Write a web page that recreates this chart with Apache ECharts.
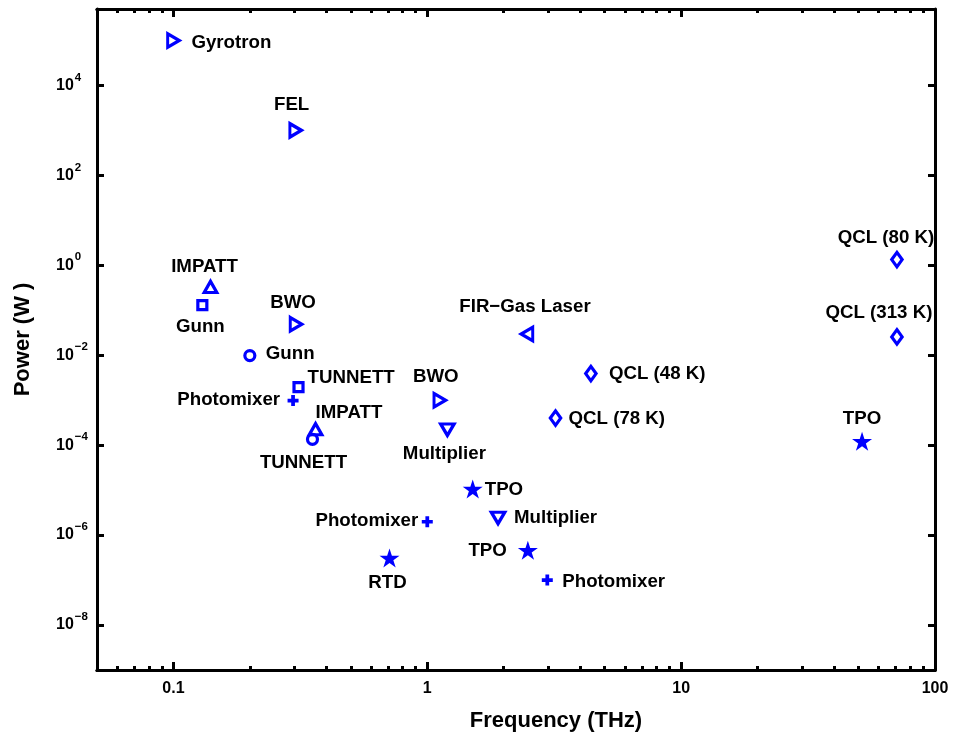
<!DOCTYPE html>
<html>
<head>
<meta charset="utf-8">
<script src="https://cdn.jsdelivr.net/npm/echarts@6/dist/echarts.min.js"></script>
<style>
  html, body { margin: 0; padding: 0; background: #ffffff; }
  #chart { width: 953px; height: 742px; }
</style>
</head>
<body>
<div id="chart"></div>
<script>
// Terahertz sources: output power against operating frequency (log-log)

const devices = [
  'Gyrotron', 'FEL', 'IMPATT', 'Gunn', 'BWO', 'Gunn', 'TUNNETT', 'Photomixer',
  'IMPATT', 'TUNNETT', 'BWO', 'Multiplier', 'FIR\u2212Gas Laser', 'QCL (48 K)',
  'QCL (78 K)', 'QCL (80 K)', 'QCL (313 K)', 'TPO', 'TPO', 'Multiplier',
  'Photomixer', 'RTD', 'TPO', 'Photomixer'
];
const freqTHz = [
  0.1, 0.303, 0.14, 0.13, 0.304, 0.2, 0.311, 0.296,
  0.363, 0.353, 1.12, 1.2, 2.47, 4.41,
  3.2, 70.8, 70.8, 51.6, 1.51, 1.9,
  1.0, 0.71, 2.49, 2.97
];
const powerW = [
  1e5, 1e3, 0.33, 0.13, 0.049, 0.0098, 0.00196, 0.00098,
  2.27e-4, 1.35e-4, 1e-3, 2.2e-4, 0.0296, 0.0039,
  4.0e-4, 1.34, 0.0255, 1.22e-4, 1.06e-5, 2.4e-6,
  1.98e-6, 3.1e-7, 4.6e-7, 1e-7
];
// marker family of each source
const markerKind = [
  'triRight', 'triRight', 'triUp', 'square', 'triRight', 'circle', 'square', 'plus',
  'triUp', 'circle', 'triRight', 'triDown', 'triLeft', 'diamond',
  'diamond', 'diamond', 'diamond', 'star', 'star', 'triDown',
  'plus', 'star', 'star', 'plus'
];

const xMajorTicks = [0.1, 1, 10, 100];
const xMinorTicks = [
  0.06, 0.07, 0.08, 0.09,
  0.2, 0.3, 0.4, 0.5, 0.6, 0.7, 0.8, 0.9,
  2, 3, 4, 5, 6, 7, 8, 9,
  20, 30, 40, 50, 60, 70, 80, 90
];
const yTicks = [1e-8, 1e-6, 1e-4, 1e-2, 1, 1e2, 1e4];

// ---- presentation ----
const BLUE = '#0000ff';
const FONT = "'Liberation Sans', Arial, Helvetica, sans-serif";

// label placement around each marker: [align, dx, dy]
const labelPlacement = [
  ['left', 18, 2], ['center', -4, -26], ['center', -6, -20], ['center', -2, 22],
  ['center', -3, -21], ['left', 16, -2], ['left', 9, -9], ['right', -13, -1],
  ['left', 0, -16], ['center', -9, 24], ['center', -4, -23], ['center', -3, 24],
  ['center', -2, -27], ['left', 18, 0], ['left', 13, 1], ['center', -11, -22],
  ['center', -18, -24], ['center', 0, -22], ['left', 12, 1], ['left', 16, 0],
  ['right', -9, -1], ['center', -2, 25], ['right', -21, 1], ['left', 15, 2]
];

function starPath() {
  const pts = [];
  for (let k = 0; k < 10; k++) {
    const r = k % 2 === 0 ? 50 : 19.1;
    const a = (-90 + 36 * k) * Math.PI / 180;
    pts.push((50 + r * Math.cos(a)).toFixed(2) + ',' + (50 + r * Math.sin(a)).toFixed(2));
  }
  return 'path://M' + pts.join('L') + 'Z';
}

const markerStyles = {
  triRight: { symbol: 'path://M0,0L10,5L0,10Z', size: [11.5, 13.5], open: true },
  triLeft:  { symbol: 'path://M10,0L10,10L0,5Z', size: [11.5, 13.5], open: true },
  triUp:    { symbol: 'path://M5,0L10,10L0,10Z', size: [12.5, 11], open: true },
  triDown:  { symbol: 'path://M0,0L10,0L5,10Z', size: [13.5, 11.5], open: true },
  square:   { symbol: 'path://M0,0L10,0L10,10L0,10Z', size: [9, 9], open: true },
  circle:   { symbol: 'circle', size: 10, open: true },
  diamond:  { symbol: 'path://M5,0L10,8L5,16L0,8Z', size: [10.5, 14.5], open: true },
  plus:     { symbol: 'path://M3.3,0H6.7V3.3H10V6.7H6.7V10H3.3V6.7H0V3.3H3.3Z', size: 11, open: false },
  star:     { symbol: starPath(), size: [20, 19], open: false }
};

const points = devices.map((name, i) => {
  const m = markerStyles[markerKind[i]];
  const [align, dx, dy] = labelPlacement[i];
  return {
    name: name,
    value: [freqTHz[i], powerW[i]],
    symbol: m.symbol,
    symbolSize: m.size,
    itemStyle: m.open
      ? { color: 'rgba(255,255,255,0)', borderColor: BLUE, borderWidth: 3.2, opacity: 1 }
      : { color: BLUE, borderWidth: 0, opacity: 1 },
    label: {
      show: true,
      formatter: name,
      position: 'inside',
      align: align,
      verticalAlign: 'middle',
      offset: [dx, dy],
      color: '#000000',
      opacity: 1,
      fontFamily: FONT,
      fontWeight: 'bold',
      fontSize: 18.7,
      textBorderWidth: 0
    }
  };
});

const axisLine = { show: true, onZero: false, lineStyle: { color: '#000', width: 3 } };

function xAxisLayer(position, ticks, tickLen, withLabels) {
  return {
    type: 'log', logBase: 10, min: 0.05, max: 100, position: position,
    axisLine: axisLine,
    axisTick: { show: true, inside: true, length: tickLen, customValues: ticks,
                lineStyle: { color: '#000', width: 3 } },
    axisLabel: withLabels
      ? { show: true, customValues: ticks, margin: 11, color: '#000', fontFamily: FONT,
          fontWeight: 'bold', fontSize: 16, formatter: v => String(v) }
      : { show: false },
    splitLine: { show: false }, minorTick: { show: false }
  };
}

function yAxisLayer(position, withLabels) {
  const supText = v => {
    const e = Math.round(Math.log10(v));
    return '{b|10}{s|' + (e < 0 ? '\u2212' + (-e) : String(e)) + '}';
  };
  return {
    type: 'log', logBase: 10, min: 1e-9, max: 5e5, position: position,
    axisLine: axisLine,
    axisTick: { show: true, inside: true, length: 7, customValues: yTicks,
                lineStyle: { color: '#000', width: 3 } },
    axisLabel: withLabels
      ? { show: true, customValues: yTicks, margin: 41, align: 'left', formatter: supText,
          rich: {
            b: { fontFamily: FONT, fontWeight: 'bold', fontSize: 16, color: '#000' },
            s: { fontFamily: FONT, fontWeight: 'bold', fontSize: 11.5, color: '#000', padding: [0, 0, 16, 1] }
          } }
      : { show: false },
    splitLine: { show: false }, minorTick: { show: false },
    name: withLabels ? 'Power (W )' : '',
    nameLocation: 'middle', nameGap: 63, nameRotate: 90,
    nameTextStyle: { fontFamily: FONT, fontWeight: 'bold', fontSize: 22, color: '#000' }
  };
}

const xBottom = xAxisLayer('bottom', xMajorTicks, 8, true);
xBottom.name = 'Frequency (THz)';
xBottom.nameLocation = 'middle';
xBottom.nameGap = 40;
xBottom.nameTextStyle = { fontFamily: FONT, fontWeight: 'bold', fontSize: 22, color: '#000',
                          padding: [0, 0, 0, 80] };

const chart = echarts.init(document.getElementById('chart'), null, { renderer: 'canvas' });
chart.setOption({
  animation: false,
  backgroundColor: '#ffffff',
  grid: { left: 97, right: 18, top: 9, bottom: 72, outerBoundsMode: 'none', containLabel: false },
  xAxis: [
    xBottom,
    xAxisLayer('bottom', xMinorTicks, 4, false),
    xAxisLayer('top', xMajorTicks, 8, false),
    xAxisLayer('top', xMinorTicks, 4, false)
  ],
  yAxis: [
    yAxisLayer('left', true),
    yAxisLayer('right', false)
  ],
  series: [{
    type: 'scatter',
    xAxisIndex: 0,
    yAxisIndex: 0,
    data: points,
    itemStyle: { opacity: 1 },
    z: 5
  }]
});
</script>
</body>
</html>
